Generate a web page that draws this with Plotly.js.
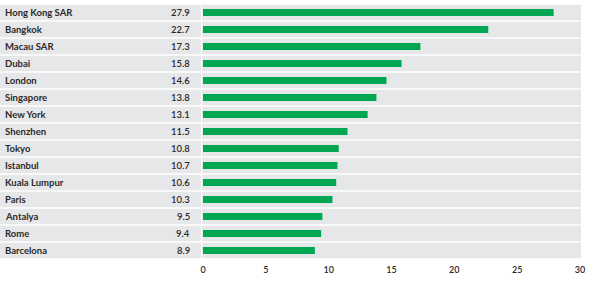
<!DOCTYPE html>
<html>
<head>
<meta charset="utf-8">
<script src="https://cdn.plot.ly/plotly-3.0.1.min.js"></script>
<style>
  html, body { margin: 0; padding: 0; background: #ffffff; }
  #chart { width: 594px; height: 287px; }
</style>
</head>
<body>
<div id="chart"></div>
<script>
// Cities ranked by value, top to bottom
const cities = ["Hong Kong SAR", "Bangkok", "Macau SAR", "Dubai", "London", "Singapore",
  "New York", "Shenzhen", "Tokyo", "Istanbul", "Kuala Lumpur", "Paris", "Antalya", "Rome", "Barcelona"];
const values = [27.9, 22.7, 17.3, 15.8, 14.6, 13.8, 13.1, 11.5, 10.8, 10.7, 10.6, 10.3, 9.5, 9.4, 8.9];
const xTicks = [0, 5, 10, 15, 20, 25, 30];

const GREEN = "#00a651";
const BAND = "#e6e7e8";
const INK = "#2b2a2a";
const FONT = "Lato, 'Open Sans', sans-serif";

const plotLeft = 203, plotRight = 580, W = 594;
const plotW = plotRight - plotLeft;
const px = v => v / plotW; // pixel offset -> paper fraction

const shapes = [];
const annotations = [];
cities.forEach((c, i) => {
  // grey band behind the label column
  shapes.push({
    type: "rect", xref: "paper", yref: "y", layer: "below",
    x0: px(-plotLeft), x1: px(-2), y0: i - 0.46, y1: i + 0.46,
    fillcolor: BAND, line: { width: 0 }
  });
  // grey band behind the bar track
  shapes.push({
    type: "rect", xref: "paper", yref: "y", layer: "below",
    x0: px(-1), x1: px(plotW + 1), y0: i - 0.46, y1: i + 0.46,
    fillcolor: BAND, line: { width: 0 }
  });
  annotations.push({
    xref: "paper", yref: "y", x: px(-plotLeft + 3), y: i, text: c,
    xanchor: "left", yanchor: "middle", showarrow: false,
    font: { family: FONT, size: 9.5, color: INK, weight: 700 }
  });
  annotations.push({
    xref: "paper", yref: "y", x: px(-plotLeft + 192), y: i, text: values[i].toFixed(1),
    xanchor: "right", yanchor: "middle", showarrow: false,
    font: { family: FONT, size: 9.5, color: INK, weight: 600 }
  });
});

const trace = {
  type: "bar", orientation: "h",
  x: values, y: cities.map((_, i) => i),
  marker: { color: GREEN, line: { width: 0 } },
  width: 0.41, hoverinfo: "skip"
};

const layout = {
  width: W, height: 287,
  margin: { l: plotLeft, r: W - plotRight, t: 3.5, b: 27.5, pad: 0 },
  paper_bgcolor: "#ffffff", plot_bgcolor: "rgba(0,0,0,0)",
  showlegend: false,
  xaxis: {
    range: [0, 30], tickvals: xTicks, ticktext: xTicks.map(String),
    showgrid: false, zeroline: false, showline: false, ticks: "",
    tickfont: { family: FONT, size: 9, color: INK, weight: 600 },
    ticklabelstandoff: 4
  },
  yaxis: {
    range: [cities.length - 0.5, -0.5],
    showgrid: false, zeroline: false, showline: false, showticklabels: false, ticks: ""
  },
  shapes: shapes,
  annotations: annotations
};

Plotly.newPlot("chart", [trace], layout, { staticPlot: true, displayModeBar: false });
</script>
</body>
</html>
